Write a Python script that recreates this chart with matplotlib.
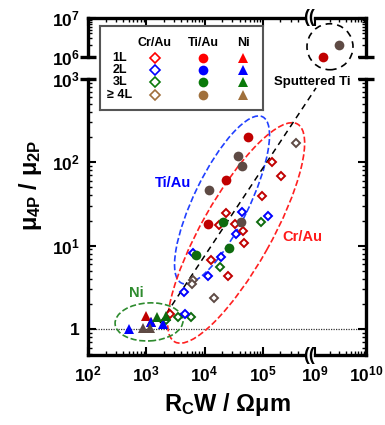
import numpy as np
import matplotlib
matplotlib.use('Agg')
import matplotlib.pyplot as plt
from matplotlib.patches import Ellipse
import matplotlib.transforms as mtransforms

plt.rcParams['font.family'] = ['Liberation Sans', 'DejaVu Sans']
plt.rcParams['font.weight'] = 'bold'
plt.rcParams['mathtext.fontset'] = 'custom'
plt.rcParams['mathtext.rm'] = 'Liberation Sans:bold'
plt.rcParams['mathtext.it'] = 'Liberation Sans:bold'
plt.rcParams['mathtext.bf'] = 'Liberation Sans:bold'

# ---------------- data ----------------
# Ti/Au (filled circles)
tiau_1L_x = [5.68e4, 2.35e4, 1.17e4, 1.46e9]
tiau_1L_y = [200, 61.4, 18.2, 1.0e6]
tiau_3L_x = [2.09e4, 2.67e4, 7.11e3]
tiau_3L_y = [19.1, 9.38, 7.63]
tiau_4L_x = [3.82e4, 4.38e4, 1.20e4, 4.26e4, 2.9e9]
tiau_4L_y = [119, 90.3, 46.5, 19.2, 2.0e6]

# Cr/Au (open diamonds)
crau_1L_x = [1.47e5, 2.09e5, 9.66e4, 2.33e4, 1.75e4, 3.36e4, 4.60e4, 4.79e4, 1.29e4, 2.51e4, 2.53e3]
crau_1L_y = [101.7, 68.5, 39.4, 24.8, 17.6, 18.2, 15.0, 10.9, 6.74, 4.37, 1.52]
crau_2L_x = [4.38e4, 1.23e5, 3.47e4, 1.95e4, 1.13e4, 6.44e3, 4.41e3, 4.55e3]
crau_2L_y = [25.0, 22.9, 13.9, 7.32, 4.37, 8.24, 2.80, 1.50]
crau_3L_x = [9.31e4, 1.82e4, 3.45e3, 5.77e3, 2.19e3]
crau_3L_y = [19.2, 5.55, 1.38, 1.38, 1.27]
crau_4L_x = [3.75e5, 6.32e3, 6.0e3, 1.44e4]
crau_4L_y = [172, 3.83, 3.52, 2.36]

# Ni (filled triangles)
ni_1L_x = [1.0e3, 1.19e3]
ni_1L_y = [1.44, 1.22]
ni_2L_x = [502, 1.21e3, 1.92e3]
ni_2L_y = [1.01, 1.23, 1.16]
ni_3L_x = [1.51e3, 2.15e3]
ni_3L_y = [1.39, 1.44]
ni_4L_x = [881, 1.16e3]
ni_4L_y = [1.03, 1.03]

layers = ['1L', '2L', '3L', '\u2265 4L']
metals = ['Cr/Au', 'Ti/Au', 'Ni']
x_tick_vals = [1e2, 1e3, 1e4, 1e5, 1e9, 1e10]
x_tick_labels = [r'$10^{2}$', r'$10^{3}$', r'$10^{4}$', r'$10^{5}$', r'$10^{9}$', r'$10^{10}$']
y_tick_vals = [1, 10, 100, 1000, 1e6, 1e7]
y_tick_labels = ['1', r'$10^{1}$', r'$10^{2}$', r'$10^{3}$', r'$10^{6}$', r'$10^{7}$']

data_colors = ['#C00000', '#0000FF', '#0E6B0E', '#5E4A44']
legend_colors = ['#FF0000', '#0000FF', '#0A7A0A', '#A0703C']

# ---------------- broken scales ----------------
XA, XB = 5.69, 9.0          # x break (log10)
XG, XR = 12 / 58.2, 51 / 58.2
YA, YB = 3.0, 6.0           # y break (log10)
YG, YR = 22 / 83.4, 38.7 / 83.4


def make_funcs(A, B, G, R):
    def fwd(v):
        L = np.log10(np.clip(np.asarray(v, float), 1e-300, None))
        return np.where(L <= A, L, np.where(L < B, A + (L - A) * G / (B - A), A + G + (L - B) * R))

    def inv(t):
        t = np.asarray(t, float)
        L = np.where(t <= A, t, np.where(t < A + G, A + (t - A) * (B - A) / G, B + (t - A - G) / R))
        return 10.0 ** np.clip(L, -300, 300)
    return fwd, inv


fxf, fxi = make_funcs(XA, XB, XG, XR)
fyf, fyi = make_funcs(YA, YB, YG, YR)

W, H = 385, 425
fig = plt.figure(figsize=(W / 100, H / 100), dpi=100)
ax = fig.add_axes([88 / W, 1 - 355 / H, 278 / W, 337 / H])
ax.set_xscale('function', functions=(fxf, fxi))
ax.set_yscale('function', functions=(fyf, fyi))
ax.set_xlim(1e2, 1e10)
ax.set_ylim(10 ** -0.31, 1e7)

# ticks
ax.set_xticks(x_tick_vals)
ax.set_xticklabels(x_tick_labels)
xminor = [m * 10 ** d for d in (2, 3, 4) for m in range(2, 10)] + [m * 1e5 for m in (2, 3, 4)] + \
         [m * 1e9 for m in range(2, 10)]
ax.set_xticks(xminor, minor=True)
ax.set_yticks(y_tick_vals)
ax.set_yticklabels(y_tick_labels)
yminor = [m * 0.1 for m in range(5, 10)] + [m * 10 ** d for d in (0, 1, 2) for m in range(2, 10)] + \
         [m * 1e6 for m in range(2, 10)]
ax.set_yticks(yminor, minor=True)
ax.tick_params(which='major', direction='in', length=6, width=1.5, labelsize=12.5, pad=6,
               top=True, right=True)
ax.tick_params(which='minor', direction='in', length=3, width=1.0, top=True, right=True)
ax.tick_params(axis='x', pad=7)

# spines with breaks
for s in ax.spines.values():
    s.set_visible(False)
xt = ax.get_xaxis_transform()
yt = ax.get_yaxis_transform()
spkw = dict(color='k', lw=2.4, clip_on=False, solid_capstyle='projecting', zorder=5)
xa_val = 10 ** XA
for yy in (0, 1):
    ax.plot([1e2, xa_val], [yy, yy], transform=xt, **spkw)
    ax.plot([1e9, 1e10], [yy, yy], transform=xt, **spkw)
for xx in (0, 1):
    ax.plot([xx, xx], [10 ** -0.31, 1e3], transform=yt, **spkw)
    ax.plot([xx, xx], [1e6, 1e7], transform=yt, **spkw)
    ax.plot([xx, xx], [1e6, 1e3], transform=yt, marker='_', ms=12, mew=2.4, ls='none',
            color='k', clip_on=False, zorder=6)
x_gap = float(fxi(XA + XG / 2))
for yy in (0, 1):
    ax.text(x_gap, yy, '((', transform=xt, ha='center', va='center', fontsize=13,
            fontweight='bold', zorder=7, clip_on=False)

# reference line at 1
ax.axhline(1, color='#333333', lw=0.9, ls=(0, (1, 1)), zorder=1)


# ---------------- guides (ellipses, line) ----------------
def ell(cx, cy, w_px, h_px, ang, color, ls='--'):
    tr = fig.dpi_scale_trans + mtransforms.ScaledTranslation(cx, cy, ax.transData)
    e = Ellipse((0, 0), w_px / 100, h_px / 100, angle=ang, transform=tr, fill=False,
                edgecolor=color, lw=1.2, ls=ls, clip_on=False, zorder=1)
    ax.add_patch(e)


ell(2.0e4, 35.3, 185, 55, 64, '#2040FF')
ell(3.49e4, 14.2, 250, 70, 60.6, '#FF2020')
ell(1117, 1.22, 68, 38, 3, '#2E8B2E')
ell(1.97e9, 1.81e6, 46, 46, 0, 'k', ls=(0, (4, 3)))

ax.plot([1726, 1.05e9], [1.18, 777], color='k', lw=1.1, ls=(0, (4, 3)), zorder=2)

# ---------------- data marks ----------------
dkw = dict(ls='none', marker='D', ms=4.4, mew=1.4, mfc='white', zorder=3)
for xs, ys, c in [(crau_4L_x, crau_4L_y, data_colors[3]), (crau_3L_x, crau_3L_y, data_colors[2]),
                  (crau_2L_x, crau_2L_y, data_colors[1]), (crau_1L_x, crau_1L_y, data_colors[0])]:
    ax.plot(xs, ys, mec=c, **dkw)
ckw = dict(ls='none', marker='o', ms=7, mew=0, zorder=4)
for xs, ys, c in [(tiau_1L_x, tiau_1L_y, data_colors[0]), (tiau_3L_x, tiau_3L_y, data_colors[2]),
                  (tiau_4L_x, tiau_4L_y, data_colors[3])]:
    ax.plot(xs, ys, color=c, **ckw)
tkw = dict(ls='none', marker='^', ms=7.5, mew=0, zorder=4)
for xs, ys, c in [(ni_1L_x, ni_1L_y, data_colors[0]), (ni_2L_x, ni_2L_y, data_colors[1]),
                  (ni_3L_x, ni_3L_y, data_colors[2]), (ni_4L_x, ni_4L_y, data_colors[3])]:
    ax.plot(xs, ys, color=c, **tkw)

# annotations
ax.text(2.88e3, 56.5, 'Ti/Au', color='#0000FF', fontsize=10.5, fontweight='bold', ha='center', va='center')
ax.text(4.75e5, 12.7, 'Cr/Au', color='#FF1A1A', fontsize=10.5, fontweight='bold', ha='center', va='center')
ax.text(668, 2.71, 'Ni', color='#2E8B2E', fontsize=10.5, fontweight='bold', ha='center', va='center')
ax.text((312 - 88) / 278, (355 - 82) / 337, 'Sputtered Ti', transform=ax.transAxes, fontsize=9.5,
        fontweight='bold', ha='center', va='center', zorder=6)

# axis labels
fig.text(227 / W, 1 - 404 / H, r'R$_{C}$W / $\Omega$$\mu$m', fontsize=17, fontweight='bold',
         ha='center', va='center')
fig.text(30 / W, 1 - 185 / H, r'$\mu_{4P}$ / $\mu_{2P}$', fontsize=17, fontweight='bold',
         ha='center', va='center', rotation=90)

# ---------------- legend ----------------
lax = fig.add_axes([100 / W, 1 - 110 / H, 163 / W, 84 / H])
lax.set_xlim(0, 163)
lax.set_ylim(84, 0)
lax.set_xticks([])
lax.set_yticks([])
for s in lax.spines.values():
    s.set_color('#555555')
    s.set_linewidth(1.5)
col_x = [55, 103, 143]
row_y = [32, 44, 56, 69]
for cx, name in zip(col_x, metals):
    lax.text(cx, 17, name, ha='center', va='center', fontsize=9, fontweight='bold')
for ry, lab, c in zip(row_y, layers, legend_colors):
    lax.text(20, ry, lab, ha='center', va='center', fontsize=9, fontweight='bold')
    lax.plot([col_x[0]], [ry], ls='none', marker='D', ms=4.6, mew=1.2, mfc='white', mec=c)
    lax.plot([col_x[1]], [ry], ls='none', marker='o', ms=7, mew=0, color=c)
    lax.plot([col_x[2]], [ry], ls='none', marker='^', ms=7.5, mew=0, color=c)

fig.savefig('out.png', dpi=100)
